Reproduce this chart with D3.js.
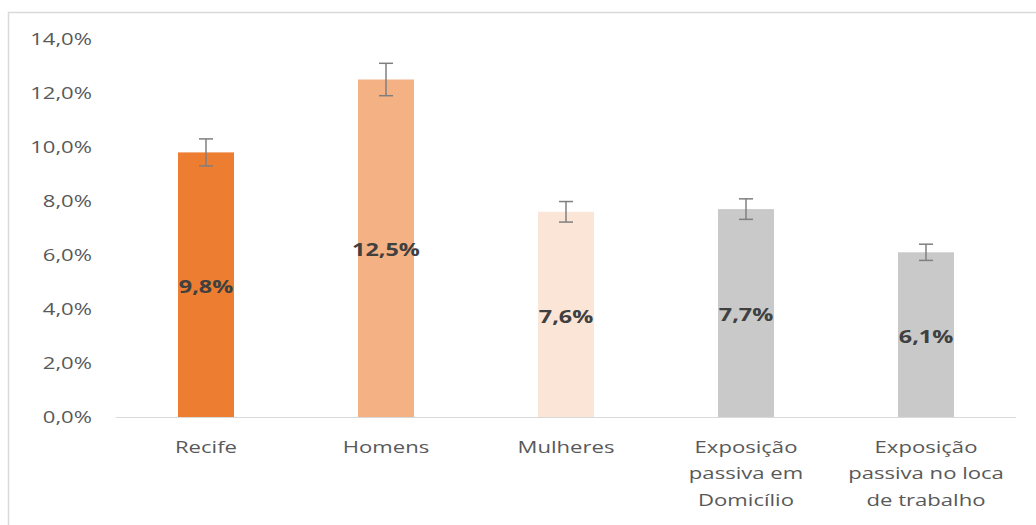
<!DOCTYPE html>
<html><head><meta charset="utf-8">
<script src="https://cdn.jsdelivr.net/npm/d3@7"></script>
<style>body{margin:0;background:#fff}svg{display:block}</style>
</head><body>
<svg id="c" width="1036" height="525"></svg>
<script>
const categories = [["Recife"],["Homens"],["Mulheres"],["Exposição","passiva em","Domicílio"],["Exposição","passiva no loca","de trabalho"]];
const values = [9.8, 12.5, 7.6, 7.7, 6.1];
const errors = [0.5, 0.6, 0.38, 0.38, 0.3];
const colors = ["#ED7D31","#F4B183","#FBE5D6","#C9C9C9","#C9C9C9"];
const yTicks = [0,2,4,6,8,10,12,14];

const SX = 1.3;
const svg = d3.select("#c");
svg.append("rect").attr("x",8.5).attr("y",12.5).attr("width",1040).attr("height",530)
  .attr("fill","#fff").attr("stroke","#d9d9d9").attr("stroke-width",1.5);

const x = d3.scaleBand().domain(d3.range(values.length)).range([116,1016]).paddingInner(0.689).paddingOuter(0.3445);
const y = d3.scaleLinear().domain([0,14]).range([417,39]);
const fmt = v => v.toFixed(1).replace(".",",") + "%";
const font = "'Open Sans', 'DejaVu Sans', sans-serif";

const yAxis = svg.append("g").attr("transform","translate(92,0)")
  .call(d3.axisLeft(y).tickValues(yTicks).tickFormat(fmt).tickSize(0).tickPadding(0));
yAxis.select(".domain").remove();
yAxis.selectAll("text").attr("fill","#595959").style("font-family",font).style("font-size","17px")
  .attr("transform",`scale(${SX},1)`);

svg.selectAll("rect.bar").data(values).join("rect").attr("class","bar")
  .attr("x",(d,i)=>x(i)).attr("width",x.bandwidth())
  .attr("y",d=>y(d)).attr("height",d=>y(0)-y(d)).attr("fill",(d,i)=>colors[i]);

svg.append("line").attr("x1",116).attr("x2",1016).attr("y1",417.5).attr("y2",417.5)
  .attr("stroke","#d9d9d9").attr("stroke-width",1);

const eb = svg.append("g").attr("stroke","#7f7f7f").attr("stroke-width",1.5);
values.forEach((v,i)=>{
  const cx = x(i)+x.bandwidth()/2;
  eb.append("line").attr("x1",cx).attr("x2",cx).attr("y1",y(v+errors[i])).attr("y2",y(v-errors[i]));
  [v+errors[i], v-errors[i]].forEach(e=>eb.append("line").attr("x1",cx-7).attr("x2",cx+7).attr("y1",y(e)).attr("y2",y(e)));
});

svg.selectAll("text.lbl").data(values).join("text").attr("class","lbl")
  .attr("transform",(d,i)=>`translate(${x(i)+x.bandwidth()/2},${y(d/2)}) scale(${SX},1)`)
  .attr("dy","0.45em")
  .attr("text-anchor","middle").attr("fill","#404040").style("font-family",font)
  .style("font-size","18px").style("font-weight","bold").text(fmt);

const cat = svg.append("g");
categories.forEach((lines,i)=>{
  const t = cat.append("text")
    .attr("transform",`translate(${x(i)+x.bandwidth()/2},453) scale(${SX},1)`)
    .attr("text-anchor","middle")
    .attr("fill","#595959").style("font-family",font).style("font-size","17px");
  lines.forEach((l,j)=>t.append("tspan").attr("x",0).attr("y",j*26.5).text(l));
});
</script>
</body></html>
